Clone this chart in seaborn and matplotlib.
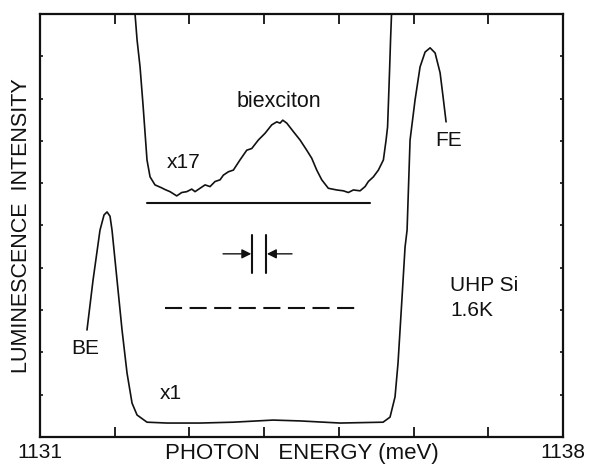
import numpy as np
import pandas as pd
import matplotlib
matplotlib.use("Agg")
import matplotlib.pyplot as plt
import seaborn as sns

# x1 spectrum (BE and FE lines)
x1_energy = [1131.629, 1131.710, 1131.803, 1131.857, 1131.897, 1131.937, 1131.964,
             1132.031, 1132.098, 1132.165, 1132.232, 1132.299, 1132.432, 1132.700,
             1133.142, 1133.584, 1134.119, 1134.481, 1135.016, 1135.592, 1135.685,
             1135.752, 1135.792, 1135.846, 1135.886, 1135.913, 1135.953, 1136.020,
             1136.087, 1136.154, 1136.221, 1136.288, 1136.355, 1136.395, 1136.435]
x1_intensity = [2.53, 3.71, 4.89, 5.25, 5.32, 5.22, 4.89,
                3.71, 2.53, 1.51, 0.80, 0.52, 0.35, 0.33,
                0.33, 0.35, 0.40, 0.38, 0.33, 0.35, 0.47,
                0.95, 1.75, 3.31, 4.49, 4.89, 7.02, 7.97,
                8.75, 9.10, 9.20, 9.08, 8.61, 8.04, 7.45]

# x17 spectrum (biexciton)
x17_energy = [1132.272, 1132.299, 1132.339, 1132.379, 1132.406, 1132.432, 1132.473,
              1132.539, 1132.629, 1132.673, 1132.740, 1132.830, 1132.897, 1132.964,
              1133.031, 1133.075, 1133.142, 1133.209, 1133.276, 1133.343, 1133.410,
              1133.454, 1133.521, 1133.588, 1133.677, 1133.767, 1133.834, 1133.922,
              1134.012, 1134.102, 1134.169, 1134.213, 1134.249, 1134.303, 1134.391,
              1134.481, 1134.570, 1134.637, 1134.704, 1134.771, 1134.859, 1134.972,
              1135.060, 1135.127, 1135.194, 1135.284, 1135.351, 1135.395, 1135.462,
              1135.529, 1135.596, 1135.632, 1135.652, 1135.665, 1135.679, 1135.692,
              1135.705]
x17_intensity = [10.0, 9.39, 8.75, 7.85, 7.19, 6.55, 6.15,
                 5.96, 5.89, 5.85, 5.80, 5.70, 5.78, 5.80,
                 5.86, 5.80, 5.88, 5.96, 5.92, 6.04, 6.08,
                 6.19, 6.27, 6.31, 6.55, 6.78, 6.82, 7.02,
                 7.18, 7.38, 7.45, 7.42, 7.49, 7.42, 7.22,
                 7.02, 6.78, 6.59, 6.31, 6.08, 5.88, 5.84,
                 5.82, 5.78, 5.84, 5.82, 5.92, 6.04, 6.15,
                 6.31, 6.55, 7.02, 7.33, 7.97, 8.68, 9.39,
                 10.0]

# baselines and resolution marker
solid_base = {"x0": 1132.432, "x1": 1135.418, "y": 5.53}
dashed_base = {"x0": 1132.674, "x1": 1135.244, "y": 3.05}
res_bars = [1133.838, 1134.025]
res_y = 4.33

x_tick_values = [1131, 1132, 1133, 1134, 1135, 1136, 1137, 1138]
x_tick_labels = ["1131", "", "", "", "", "", "", "1138"]
y_tick_values = [1, 2, 3, 4, 5, 6, 7, 8, 9]

sns.set_style("white")
plt.rcParams["font.family"] = ["Liberation Sans", "DejaVu Sans"]

fig = plt.figure(figsize=(5.92, 4.66), dpi=100)
ax = fig.add_axes([40 / 592, 29 / 466, 523 / 592, 423 / 466])

ink = "#111111"
df1 = pd.DataFrame({"E": x1_energy, "I": x1_intensity})
df17 = pd.DataFrame({"E": x17_energy, "I": x17_intensity})
sns.lineplot(data=df1, x="E", y="I", ax=ax, color=ink, lw=1.2, estimator=None, sort=False)
sns.lineplot(data=df17, x="E", y="I", ax=ax, color=ink, lw=1.2, estimator=None, sort=False)

ax.plot([solid_base["x0"], solid_base["x1"]], [solid_base["y"]] * 2, color=ink, lw=1.5)
ax.plot([dashed_base["x0"], dashed_base["x1"]], [dashed_base["y"]] * 2, color=ink, lw=1.5,
        linestyle=(0, (8.2, 3.6)))

for xb in res_bars:
    ax.plot([xb, xb], [res_y - 0.45, res_y + 0.45], color=ink, lw=1.5)
ax.annotate("", xy=(res_bars[0] - 0.01, res_y), xytext=(1133.45, res_y),
            arrowprops=dict(arrowstyle="-|>", color=ink, lw=1.0, mutation_scale=14,
                            shrinkA=0, shrinkB=0))
ax.annotate("", xy=(res_bars[1] + 0.012, res_y), xytext=(1134.373, res_y),
            arrowprops=dict(arrowstyle="-|>", color=ink, lw=1.0, mutation_scale=14,
                            shrinkA=0, shrinkB=0))

ax.set_xlim(1131, 1138)
ax.set_ylim(0, 10)

fs = 15
ax.text(1134.20, 7.94, "biexciton", ha="center", va="center", fontsize=15.5, color=ink)
ax.text(1132.921, 6.48, "x17", ha="center", va="center", fontsize=fs, color=ink)
ax.text(1136.466, 7.02, "FE", ha="center", va="center", fontsize=fs, color=ink)
ax.text(1131.602, 2.10, "BE", ha="center", va="center", fontsize=fs, color=ink)
ax.text(1132.749, 1.02, "x1", ha="center", va="center", fontsize=fs, color=ink)
ax.text(1136.489, 3.59, "UHP Si", ha="left", va="center", fontsize=fs, color=ink)
ax.text(1136.489, 2.98, "1.6K", ha="left", va="center", fontsize=fs, color=ink)

ax.set_xticks(x_tick_values)
ax.set_xticklabels(x_tick_labels)
ax.set_yticks(y_tick_values)
ax.set_yticklabels([])
ax.tick_params(axis="x", direction="in", length=7.5, width=1.3, top=True, bottom=True,
               labelsize=15, pad=4, colors=ink)
ax.tick_params(axis="y", direction="in", length=2.5, width=1.2, left=True, right=True,
               colors=ink)

ax.set_xlabel("PHOTON   ENERGY (meV)", fontsize=16, color=ink, labelpad=-13)
ax.set_ylabel("LUMINESCENCE  INTENSITY", fontsize=15.5, color=ink, labelpad=2)

for s in ax.spines.values():
    s.set_linewidth(1.6)
    s.set_color(ink)

fig.savefig("out.png", dpi=100, facecolor="white")
